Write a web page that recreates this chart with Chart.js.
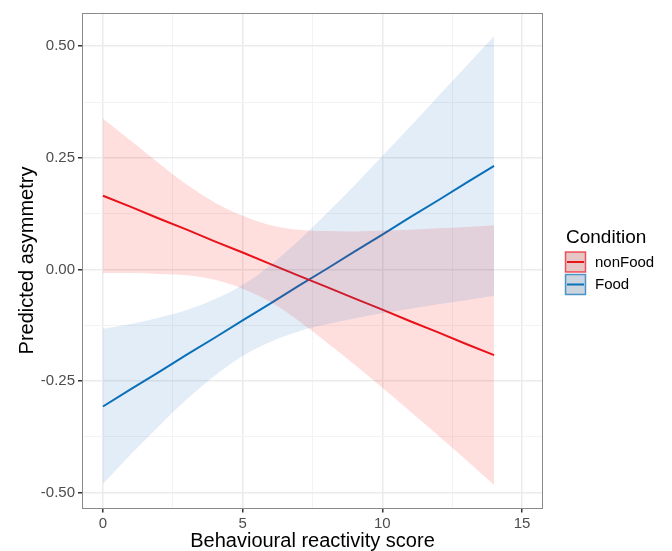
<!DOCTYPE html>
<html><head><meta charset="utf-8">
<script src="https://cdn.jsdelivr.net/npm/chart.js@4.4.1/dist/chart.umd.min.js"></script>
<style>html,body{margin:0;padding:0;background:#fff;overflow:hidden;} #wrap{width:672px;height:551px;}</style>
</head><body><div id="wrap"><canvas id="c" width="672" height="551"></canvas></div>
<script>
// ---- data ----
const scores = [0,1,2,3,4,5,6,7,8,9,10,11,12,13,14];
const conditions = ['nonFood','Food'];
const nonFoodFit   = [0.165,0.140,0.114,0.089,0.063,0.038,0.012,-0.014,-0.039,-0.065,-0.090,-0.116,-0.141,-0.167,-0.192];
const nonFoodUpper = [0.338,0.288,0.238,0.190,0.150,0.120,0.099,0.089,0.086,0.085,0.087,0.089,0.092,0.095,0.099];
const nonFoodLower = [-0.008,-0.008,-0.010,-0.013,-0.023,-0.043,-0.073,-0.115,-0.163,-0.213,-0.265,-0.318,-0.372,-0.427,-0.483];
const foodFit   = [-0.307,-0.268,-0.230,-0.191,-0.153,-0.114,-0.076,-0.037,0.001,0.040,0.078,0.117,0.155,0.194,0.232];
const foodUpper = [-0.133,-0.122,-0.108,-0.091,-0.067,-0.035,0.010,0.064,0.125,0.188,0.254,0.320,0.388,0.455,0.523];
const foodLower = [-0.480,-0.414,-0.351,-0.291,-0.238,-0.194,-0.162,-0.139,-0.123,-0.110,-0.098,-0.088,-0.078,-0.069,-0.059];
const xTickLabels = [0,5,10,15];
const yTickLabels = [-0.5,-0.25,0,0.25,0.5];
const xMinorGrid = [2.5,7.5,12.5];
const yMinorGrid = [-0.375,-0.125,0.125,0.375];
const xTitle = 'Behavioural reactivity score';
const yTitle = 'Predicted asymmetry';
const legendTitle = 'Condition';

// ---- styles ----
const FONT = "'Liberation Sans', Arial, sans-serif";
const RED = '#E8141C', BLUE = '#0A70B8';
const RED_FILL = 'rgba(255,0,0,0.13)', BLUE_FILL = 'rgba(20,110,190,0.12)';

const pts = ys => scores.map((x,i) => ({x, y: ys[i]}));
const isMajor = (list, v) => list.some(t => Math.abs(t - v) < 1e-9);

const gridOpts = (majors) => ({
  color: c => (c.tick && isMajor(majors, c.tick.value)) ? '#EBEBEB' : '#F3F3F3',
  lineWidth: c => (c.tick && isMajor(majors, c.tick.value)) ? 1.5 : 1,
  tickColor: c => (c.tick && isMajor(majors, c.tick.value)) ? '#333333' : 'rgba(0,0,0,0)',
  tickLength: 4,
  drawTicks: true
});

const frame = {
  id: 'frame',
  afterDatasetsDraw(chart) {
    const {ctx, chartArea: a} = chart;
    ctx.save();
    ctx.strokeStyle = '#8a8a8a';
    ctx.lineWidth = 1;
    ctx.strokeRect(Math.round(a.left) + 0.5, Math.round(a.top) + 0.5, Math.round(a.right - a.left) - 1, Math.round(a.bottom - a.top) - 1);
    ctx.restore();
  }
};

const ggLegend = {
  id: 'ggLegend',
  afterDraw(chart) {
    const ctx = chart.ctx;
    ctx.save();
    ctx.fillStyle = '#000';
    ctx.font = '19px ' + FONT;
    ctx.textBaseline = 'alphabetic';
    ctx.textAlign = 'left';
    ctx.fillText(legendTitle, 566, 243);
    const keys = [
      {label: conditions[0], line: RED, border: 'rgba(232,20,28,0.7)', fill: RED_FILL},
      {label: conditions[1], line: BLUE, border: 'rgba(10,112,184,0.7)', fill: BLUE_FILL}
    ];
    keys.forEach((k, i) => {
      const y0 = 252 + i * 22.5;
      ctx.fillStyle = '#E4E4E4';
      ctx.fillRect(565.5, y0, 20, 20);
      ctx.fillStyle = k.fill;
      ctx.fillRect(565.5, y0, 20, 20);
      ctx.strokeStyle = k.border;
      ctx.lineWidth = 1.5;
      ctx.strokeRect(565.5, y0, 20, 20);
      ctx.strokeStyle = k.line;
      ctx.lineWidth = 2;
      ctx.beginPath();
      ctx.moveTo(567, y0 + 10);
      ctx.lineTo(584, y0 + 10);
      ctx.stroke();
      ctx.fillStyle = '#000';
      ctx.font = '15px ' + FONT;
      ctx.textBaseline = 'middle';
      ctx.fillText(k.label, 595, y0 + 10.5);
    });
    ctx.restore();
  }
};

Chart.defaults.font.family = FONT;

const band = {borderWidth: 0, borderColor: 'rgba(0,0,0,0)', pointRadius: 0, cubicInterpolationMode: 'monotone'};

new Chart(document.getElementById('c'), {
  type: 'line',
  data: {
    datasets: [
      {label: conditions[0], data: pts(nonFoodFit), borderColor: RED, borderWidth: 2, pointRadius: 0, fill: false, order: 3},
      {label: conditions[1], data: pts(foodFit), borderColor: BLUE, borderWidth: 2, pointRadius: 0, fill: false, order: 3},
      Object.assign({label: 'nonFood lower', data: pts(nonFoodLower), fill: false, order: 2}, band),
      Object.assign({label: 'nonFood upper', data: pts(nonFoodUpper), fill: 2, backgroundColor: RED_FILL, order: 2}, band),
      Object.assign({label: 'Food lower', data: pts(foodLower), fill: false, order: 1}, band),
      Object.assign({label: 'Food upper', data: pts(foodUpper), fill: 4, backgroundColor: BLUE_FILL, order: 1}, band)
    ]
  },
  options: {
    responsive: false,
    devicePixelRatio: 1,
    animation: false,
    events: [],
    layout: {padding: {left: 0, right: 129, top: 12.5, bottom: 0}},
    plugins: {legend: {display: false}, tooltip: {enabled: false}, filler: {propagate: false}},
    elements: {line: {tension: 0}},
    scales: {
      x: {
        type: 'linear', min: -0.75, max: 15.75,
        afterBuildTicks: s => { s.ticks = xTickLabels.concat(xMinorGrid).sort((a,b)=>a-b).map(v => ({value: v})); },
        afterFit: s => { s.height = 42.5; },
        grid: gridOpts(xTickLabels),
        border: {display: false},
        ticks: {
          autoSkip: false, maxRotation: 0, padding: 2, color: '#4D4D4D', font: {size: 15},
          callback: v => isMajor(xTickLabels, v) ? String(v) : ''
        },
        title: {display: true, text: xTitle, color: '#000', font: {size: 20, lineHeight: 1}, padding: {top: 0, bottom: 0}}
      },
      y: {
        type: 'linear', min: -0.5355, max: 0.5755,
        afterBuildTicks: s => { s.ticks = yTickLabels.concat(yMinorGrid).sort((a,b)=>a-b).map(v => ({value: v})); },
        afterFit: s => { s.width = 82; },
        grid: gridOpts(yTickLabels),
        border: {display: false},
        ticks: {
          autoSkip: false, padding: 3, color: '#4D4D4D', font: {size: 15},
          callback: v => isMajor(yTickLabels, v) ? v.toFixed(2) : ''
        },
        title: {display: true, text: yTitle, color: '#000', font: {size: 20, lineHeight: 1}, padding: {top: 17, bottom: 0}}
      }
    }
  },
  plugins: [frame, ggLegend]
});
</script>
</body></html>
